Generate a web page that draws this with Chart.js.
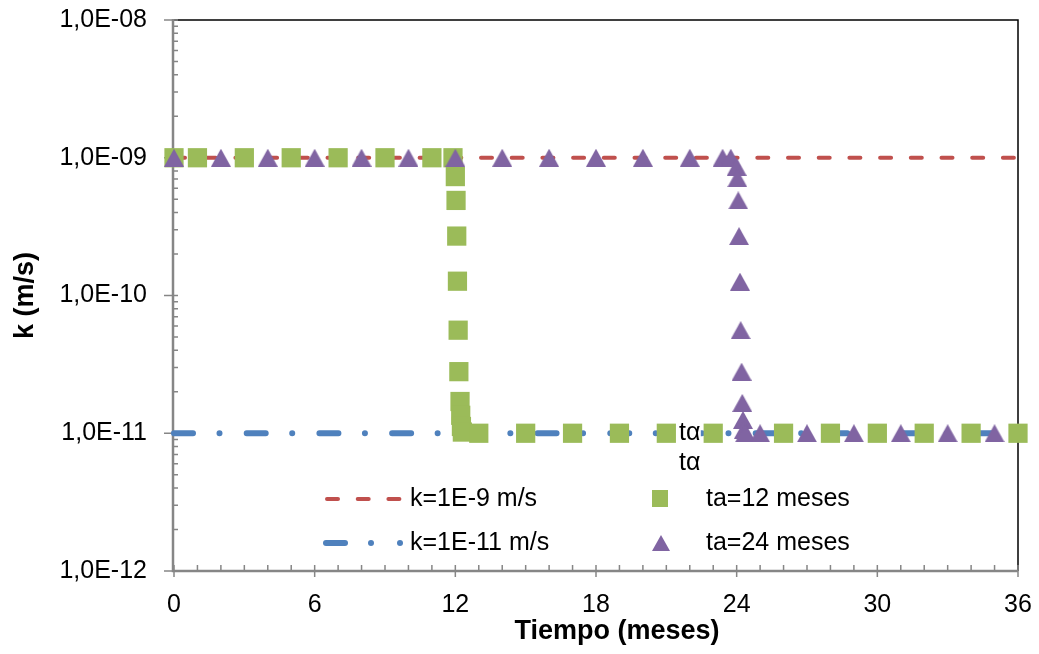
<!DOCTYPE html>
<html lang="es">
<head>
<meta charset="utf-8">
<title>k vs tiempo</title>
<script src="https://cdn.jsdelivr.net/npm/chart.js@4.4.1/dist/chart.umd.min.js"></script>
<style>
  html, body { margin: 0; padding: 0; background: #fff; }
  #grafica { display: block; }
</style>
</head>
<body>
<canvas id="grafica" width="1039" height="654"></canvas>
<script>
// Datos
const xTicks = [0, 6, 12, 18, 24, 30, 36];
const yTicks = [1e-12, 1e-11, 1e-10, 1e-9, 1e-8];

const lineaX = [0, 36];
const k9Y = [1e-9, 1e-9];
const k11Y = [1e-11, 1e-11];

const ta12X = [0, 1, 3, 5, 7, 9, 11, 11.9,
  12.0, 12.03, 12.06, 12.09, 12.12, 12.15, 12.2, 12.23, 12.26, 12.3,
  13, 15, 17, 19, 21, 23, 26, 28, 30, 32, 34, 36];
const ta12Y = [1e-9, 1e-9, 1e-9, 1e-9, 1e-9, 1e-9, 1e-9, 1e-9,
  7.3e-10, 4.9e-10, 2.7e-10, 1.27e-10, 5.6e-11, 2.8e-11, 1.7e-11, 1.35e-11, 1.12e-11, 1.02e-11,
  1e-11, 1e-11, 1e-11, 1e-11, 1e-11, 1e-11, 1e-11, 1e-11, 1e-11, 1e-11, 1e-11, 1e-11];

const ta24X = [0, 2, 4, 6, 8, 10, 12, 14, 16, 18, 20, 22, 23.4, 23.75,
  24.0, 24.03, 24.07, 24.1, 24.14, 24.17, 24.21, 24.24, 24.27, 24.31, 24.36,
  25, 27, 29, 31, 33, 35];
const ta24Y = [1e-9, 1e-9, 1e-9, 1e-9, 1e-9, 1e-9, 1e-9, 1e-9, 1e-9, 1e-9, 1e-9, 1e-9, 1e-9, 1e-9,
  8.6e-10, 7.1e-10, 4.9e-10, 2.7e-10, 1.26e-10, 5.6e-11, 2.8e-11, 1.66e-11, 1.25e-11, 1.06e-11, 1e-11,
  1e-11, 1e-11, 1e-11, 1e-11, 1e-11, 1e-11];

const ROJO = '#C0504D', AZUL = '#4F81BD', VERDE = '#9BBB59', MORADO = '#8064A2';
const FUENTE = '"Liberation Sans", Arial, sans-serif';

Chart.defaults.font.family = FUENTE;

function pares(xs, ys) {
  return xs.map((x, i) => ({ x: x, y: ys[i] }));
}

// 1,0E-09
function fmtSci(v) {
  const partes = Number(v).toExponential(1).split('e');
  const n = Math.abs(parseInt(partes[1], 10));
  return partes[0].replace('.', ',') + 'E' + (partes[1][0] === '-' ? '-' : '+') + String(n).padStart(2, '0');
}

// triángulo centrado en su caja, como en Excel
function triangulo(w, h, color) {
  const c = document.createElement('canvas');
  c.width = w; c.height = h;
  const g = c.getContext('2d');
  g.fillStyle = color;
  g.beginPath();
  g.moveTo(w / 2, 0);
  g.lineTo(w, h);
  g.lineTo(0, h);
  g.closePath();
  g.fill();
  return c;
}

const decoracion = {
  id: 'decoracion',
  beforeDatasetsDraw(chart) {
    const { ctx, chartArea: a, scales: { x, y } } = chart;
    ctx.save();
    // marco superior y derecho
    ctx.strokeStyle = '#000';
    ctx.lineWidth = 1.5;
    ctx.beginPath();
    ctx.moveTo(a.left, a.top);
    ctx.lineTo(a.right, a.top);
    ctx.lineTo(a.right, a.bottom);
    ctx.stroke();
    // ejes grises
    ctx.strokeStyle = '#868686';
    ctx.lineWidth = 2.5;
    ctx.beginPath();
    ctx.moveTo(a.left - 1, a.top - 1);
    ctx.lineTo(a.left - 1, a.bottom);
    ctx.lineTo(a.right, a.bottom);
    ctx.stroke();
    ctx.lineWidth = 1.5;
    ctx.beginPath();
    yTicks.forEach(t => {
      const py = y.getPixelForValue(t);
      ctx.moveTo(a.left - 10, py);
      ctx.lineTo(a.left + 4, py);
      if (t < y.max) {
        for (let m = 2; m <= 9; m++) {
          const p = y.getPixelForValue(t * m);
          ctx.moveTo(a.left - 1, p);
          ctx.lineTo(a.left + 4, p);
        }
      }
    });
    for (let m = x.min; m <= x.max; m++) {
      const px = x.getPixelForValue(m);
      ctx.moveTo(px, a.bottom - 6);
      ctx.lineTo(px, xTicks.includes(m) ? a.bottom + 6 : a.bottom);
    }
    ctx.stroke();
    ctx.restore();
  },
  afterDraw(chart) {
    const { ctx, chartArea: a, scales: { x, y } } = chart;
    ctx.save();
    ctx.fillStyle = '#000';
    // títulos de ejes
    ctx.font = 'bold 27px ' + FUENTE;
    ctx.textAlign = 'center';
    ctx.textBaseline = 'middle';
    ctx.fillText('Tiempo (meses)', (a.left + a.right) / 2 + 21, 632);
    ctx.save();
    ctx.translate(26, (a.top + a.bottom) / 2);
    ctx.rotate(-Math.PI / 2);
    ctx.fillText('k (m/s)', 0, 0);
    ctx.restore();

    // etiquetas tα
    const tx = x.getPixelForValue(22);
    const ty = y.getPixelForValue(1e-11);
    ctx.fillStyle = '#fff';
    ctx.fillRect(tx - 11, ty - 11, 22, 22);
    ctx.fillStyle = '#000';
    ctx.font = '25px ' + FUENTE;
    ctx.fillText('tα', tx, ty);
    ctx.fillText('tα', tx, ty + 30);

    // leyenda
    const f1 = 499, f2 = 543;
    ctx.lineCap = 'round';
    ctx.strokeStyle = ROJO;
    ctx.lineWidth = 4;
    ctx.setLineDash([11, 19.7]);
    ctx.beginPath();
    ctx.moveTo(327, f1);
    ctx.lineTo(401, f1);
    ctx.stroke();
    ctx.setLineDash([]);
    ctx.strokeStyle = AZUL;
    ctx.lineWidth = 6;
    ctx.beginPath();
    ctx.moveTo(326, f2);
    ctx.lineTo(345, f2);
    ctx.stroke();
    ctx.fillStyle = AZUL;
    [371, 400].forEach(cx => {
      ctx.beginPath();
      ctx.arc(cx, f2, 3, 0, Math.PI * 2);
      ctx.fill();
    });
    ctx.fillStyle = VERDE;
    ctx.fillRect(652, f1 - 9, 16, 17);
    ctx.drawImage(triangulo(18, 16, MORADO), 652, f2 - 8);

    ctx.fillStyle = '#000';
    ctx.textAlign = 'left';
    ctx.font = '25px ' + FUENTE;
    ctx.fillText('k=1E-9 m/s', 410, f1);
    ctx.fillText('k=1E-11 m/s', 410, f2);
    ctx.fillText('ta=12 meses', 706, f1);
    ctx.fillText('ta=24 meses', 706, f2);
    ctx.restore();
  }
};

new Chart(document.getElementById('grafica'), {
  type: 'scatter',
  data: {
    datasets: [
      {
        label: 'k=1E-9 m/s',
        data: pares(lineaX, k9Y),
        showLine: true,
        borderColor: ROJO,
        borderWidth: 4,
        borderDash: [11, 19.7],
        borderCapStyle: 'round',
        pointRadius: 0,
        clip: false,
        order: 3
      },
      {
        label: 'k=1E-11 m/s',
        data: pares(lineaX, k11Y),
        showLine: true,
        borderColor: AZUL,
        borderWidth: 6,
        borderDash: [19, 26.5, 0.01, 27.2],
        borderCapStyle: 'round',
        pointRadius: 0,
        clip: false,
        order: 2
      },
      {
        label: 'ta=12 meses',
        data: pares(ta12X, ta12Y),
        showLine: false,
        pointStyle: 'rect',
        pointRadius: 13.6,
        pointBackgroundColor: VERDE,
        pointBorderWidth: 0,
        clip: false,
        order: 1
      },
      {
        label: 'ta=24 meses',
        data: pares(ta24X, ta24Y),
        showLine: false,
        pointStyle: triangulo(20, 18, MORADO),
        pointRadius: 10,
        pointBackgroundColor: MORADO,
        pointBorderWidth: 0,
        clip: false,
        order: 0
      }
    ]
  },
  options: {
    responsive: false,
    animation: false,
    devicePixelRatio: 1,
    layout: { padding: { top: 20, right: 21, left: 0, bottom: 0 } },
    plugins: {
      legend: { display: false },
      tooltip: { enabled: false }
    },
    scales: {
      x: {
        type: 'linear',
        min: 0,
        max: 36,
        afterBuildTicks: s => { s.ticks = xTicks.map(v => ({ value: v })); },
        afterFit: s => { s.height = 83; s.paddingLeft = 0; s.paddingRight = 0; },
        grid: { display: false, drawTicks: false },
        border: { display: false },
        ticks: { font: { size: 25 }, color: '#000', padding: 19, maxRotation: 0, autoSkip: false }
      },
      y: {
        type: 'logarithmic',
        min: 1e-12,
        max: 1e-8,
        afterBuildTicks: s => { s.ticks = yTicks.map(v => ({ value: v })); },
        afterFit: s => { s.width = 174; s.paddingTop = 0; s.paddingBottom = 0; },
        grid: { display: false, drawTicks: false },
        border: { display: false },
        ticks: { font: { size: 25 }, color: '#000', padding: 27, autoSkip: false, callback: v => fmtSci(v) }
      }
    }
  },
  plugins: [decoracion]
});
</script>
</body>
</html>
